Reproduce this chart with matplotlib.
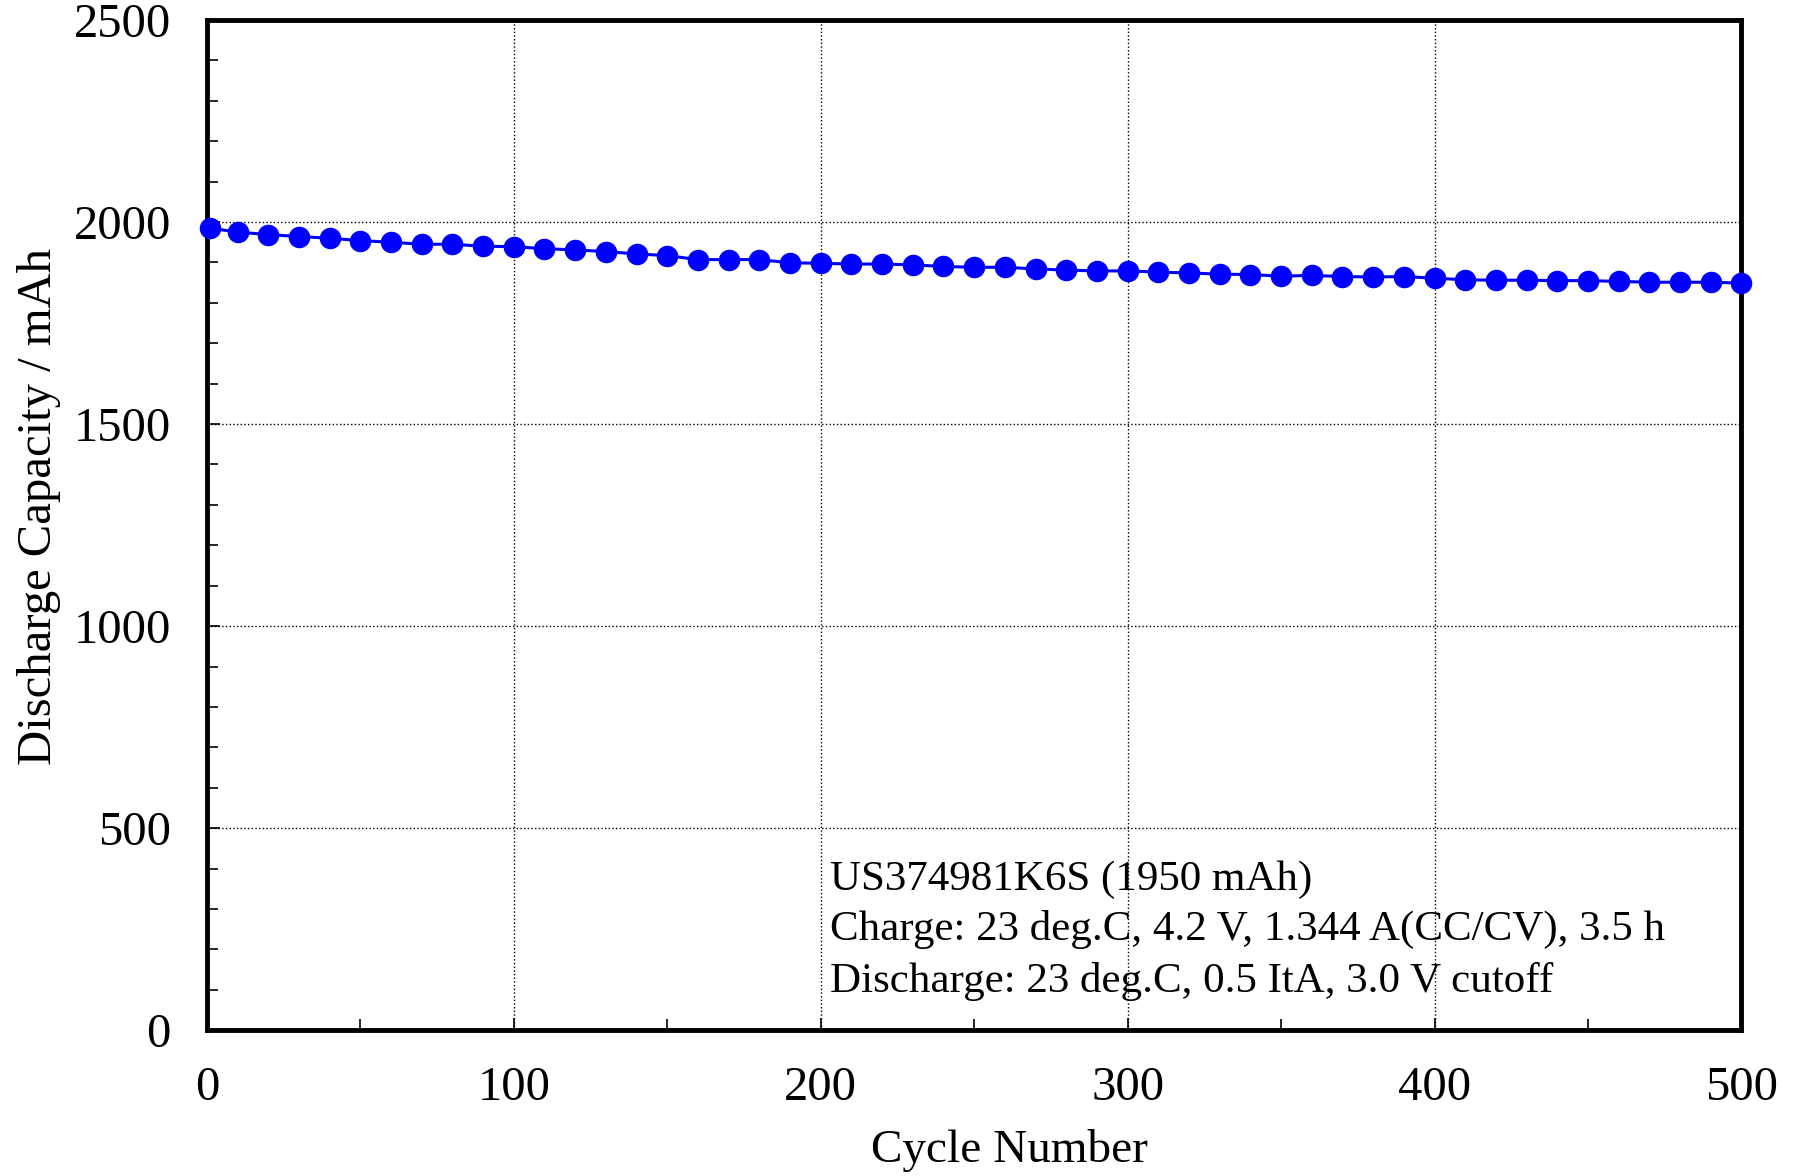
import matplotlib.pyplot as plt
from matplotlib.ticker import MultipleLocator

# cycle number and discharge capacity (mAh)
cycles = [1, 10, 20, 30, 40, 50, 60, 70, 80, 90, 100,
          110, 120, 130, 140, 150, 160, 170, 180, 190, 200,
          210, 220, 230, 240, 250, 260, 270, 280, 290, 300,
          310, 320, 330, 340, 350, 360, 370, 380, 390, 400,
          410, 420, 430, 440, 450, 460, 470, 480, 490, 500]
capacity = [1985, 1975, 1969, 1964, 1960, 1954, 1950, 1945, 1945, 1940, 1939,
            1934, 1931, 1927, 1921, 1917, 1907, 1907, 1907, 1899, 1898,
            1896, 1896, 1894, 1890, 1888, 1888, 1884, 1881, 1879, 1879,
            1876, 1874, 1871, 1870, 1866, 1868, 1865, 1864, 1865, 1861,
            1857, 1856, 1856, 1855, 1855, 1853, 1851, 1851, 1851, 1849]

note_lines = ['US374981K6S (1950 mAh)',
              'Charge: 23 deg.C, 4.2 V, 1.344 A(CC/CV), 3.5 h',
              'Discharge: 23 deg.C, 0.5 ItA, 3.0 V cutoff']

plt.rcParams['font.family'] = ['Liberation Serif', 'DejaVu Serif']

fig = plt.figure(figsize=(17.99, 11.76), dpi=100)
ax = fig.add_axes([0.115, 0.124, 0.853, 0.859])

ax.plot(cycles, capacity, color='#0000ff', lw=2.2, marker='o', ms=14.5,
        clip_on=False, zorder=3)

ax.set_xlim(0, 500)
ax.set_ylim(0, 2500)
ax.xaxis.set_major_locator(MultipleLocator(100))
ax.xaxis.set_minor_locator(MultipleLocator(50))
ax.yaxis.set_major_locator(MultipleLocator(500))
ax.yaxis.set_minor_locator(MultipleLocator(100))
ax.tick_params(which='both', direction='in', width=1.2, labelsize=35)
ax.tick_params(which='major', length=9)
ax.tick_params(which='minor', length=8)
ax.tick_params(axis='x', pad=26)
ax.tick_params(axis='y', pad=26)

ax.grid(True, which='major', color='black', ls=':', lw=1.0)
for s in ax.spines.values():
    s.set_linewidth(3.5)

ax.set_xlabel('Cycle Number', fontsize=34)
ax.set_ylabel('Discharge Capacity / mAh', fontsize=35)
ax.xaxis.set_label_coords(0.523, -0.098)
ax.yaxis.set_label_coords(-0.095, 0.518)

for yf, line in zip([0.1485, 0.1, 0.0485], note_lines):
    ax.text(0.406, yf, line, transform=ax.transAxes, fontsize=31,
            va='center', ha='left')

fig.savefig('out.png', dpi=100)
